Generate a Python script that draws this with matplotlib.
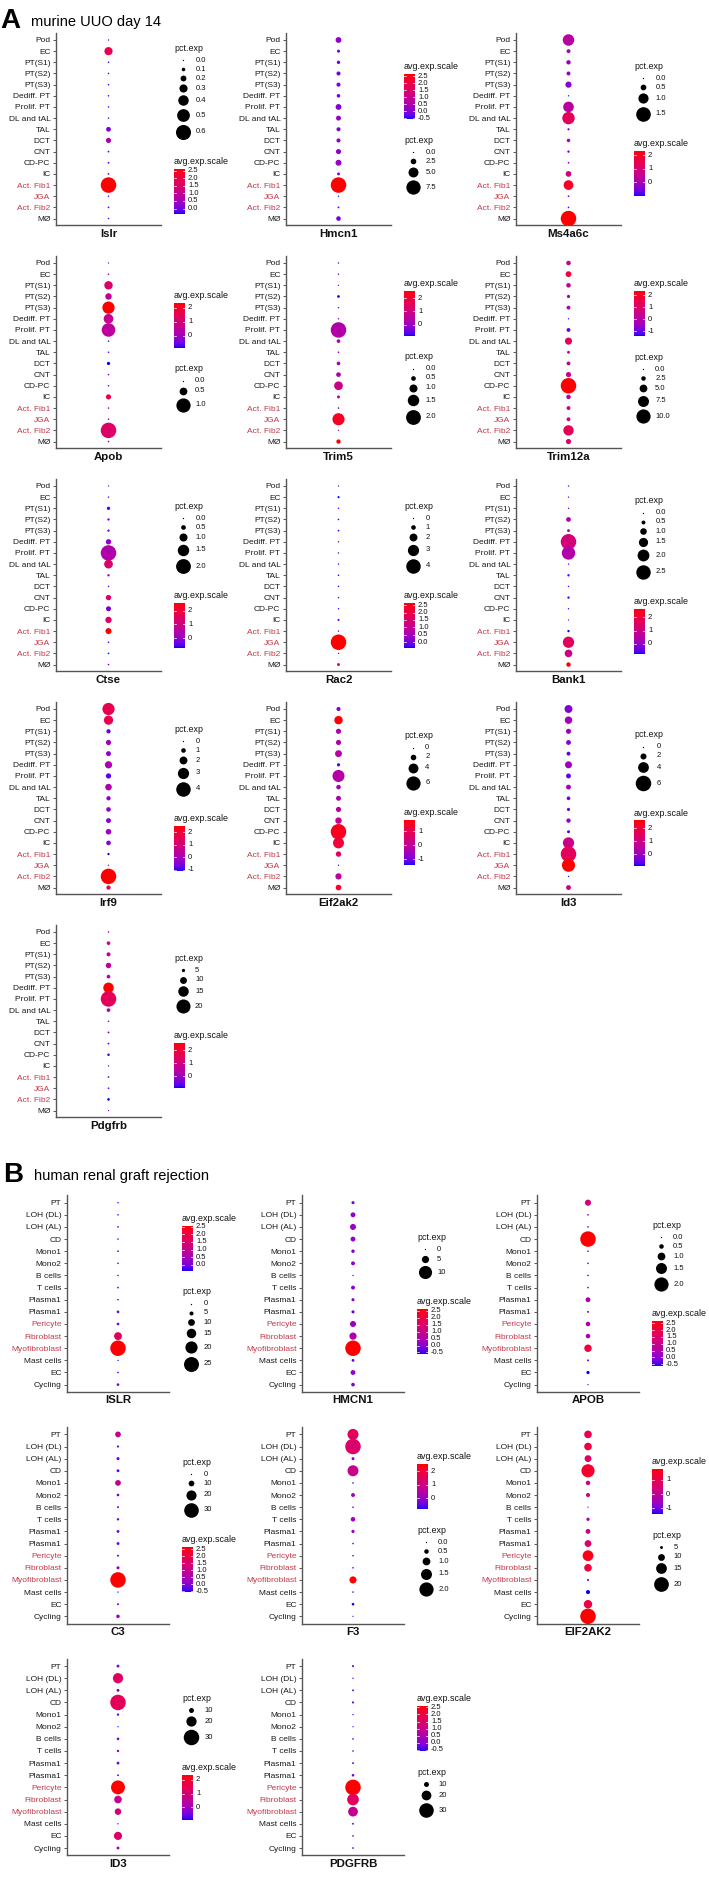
import numpy as np
import matplotlib
matplotlib.use("Agg")
import matplotlib.pyplot as plt
from matplotlib import font_manager
from matplotlib.colors import ListedColormap, Normalize

# ---------------- data ----------------
murine_cells = ["Pod", "EC", "PT(S1)", "PT(S2)", "PT(S3)", "Dediff. PT", "Prolif. PT",
                "DL and tAL", "TAL", "DCT", "CNT", "CD-PC", "IC", "Act. Fib1", "JGA",
                "Act. Fib2", "MØ"]
murine_red = ["Act. Fib1", "JGA", "Act. Fib2"]
human_cells = ["PT", "LOH (DL)", "LOH (AL)", "CD", "Mono1", "Mono2", "B cells", "T cells",
               "Plasma1", "Plasma1", "Pericyte", "Fibroblast", "Myofibroblast", "Mast cells",
               "EC", "Cycling"]
human_red = ["Pericyte", "Fibroblast", "Myofibroblast"]

# murine UUO day 14
islr_pct = [0.0, 0.30, 0.01, 0.01, 0.01, 0.01, 0.01, 0.01, 0.15, 0.17, 0.02, 0.02, 0.02, 0.62, 0.01, 0.02, 0.01]
islr_avg = [-0.39, 1.85, -0.3, -0.3, -0.3, -0.3, -0.2, -0.2, 0.1, 0.6, -0.2, -0.2, -0.1, 2.57, -0.2, -0.1, -0.2]
hmcn1_pct = [2.6, 1.0, 1.2, 1.6, 1.6, 1.3, 2.6, 2.1, 1.6, 1.6, 2.2, 2.7, 0.9, 8.2, 0.0, 0.3, 1.9]
hmcn1_avg = [0.1, -0.2, -0.2, -0.1, -0.1, -0.2, 0.0, 0.2, 0.0, 0.0, 0.1, 0.2, -0.1, 2.65, -0.55, -0.4, -0.1]
ms4a6c_pct = [1.15, 0.3, 0.35, 0.3, 0.55, 0.0, 1.05, 1.25, 0.1, 0.25, 0.12, 0.05, 0.5, 0.95, 0.05, 0.04, 1.6]
ms4a6c_avg = [0.3, 0.0, -0.2, -0.2, -0.3, -1.0, 0.3, 1.3, -0.4, 0.0, -0.5, -0.6, 0.8, 2.0, -0.6, -0.6, 2.28]
apob_pct = [0.0, 0.02, 0.55, 0.4, 0.85, 0.65, 0.95, 0.02, 0.02, 0.15, 0.02, 0.02, 0.3, 0.02, 0.02, 1.1, 0.02]
apob_avg = [-0.5, -0.5, 1.2, 0.6, 2.35, 0.7, 0.5, -0.6, -0.5, -0.85, -0.4, -0.5, 1.6, -0.4, -0.4, 1.2, -0.4]
trim5_pct = [0.02, 0.03, 0.0, 0.2, 0.02, 0.02, 2.1, 0.35, 0.05, 0.35, 0.5, 1.1, 0.25, 0.05, 1.6, 0.0, 0.45]
trim5_avg = [-0.5, -0.5, -0.5, -0.85, -0.4, -0.4, 0.4, 0.3, -0.4, 0.2, 0.3, 0.9, 0.3, -0.3, 2.3, -0.4, 2.6]
trim12a_pct = [2.5, 3.5, 2.5, 1.5, 2.0, 0.0, 2.0, 4.5, 1.2, 2.0, 3.0, 11.0, 2.5, 2.0, 2.0, 7.0, 3.0]
trim12a_avg = [0.3, 1.7, 0.1, -0.4, 0.0, -1.4, -1.0, 1.3, -0.2, 0.2, 0.5, 2.33, 0.1, 0.6, 0.4, 1.3, 0.9]
ctse_pct = [0.0, 0.03, 0.3, 0.15, 0.15, 0.6, 2.1, 1.1, 0.15, 0.03, 0.6, 0.55, 0.75, 0.7, 0.05, 0.05, 0.05]
ctse_avg = [-0.5, -0.5, -0.6, -0.4, -0.4, 0.0, 0.4, 1.3, -0.1, -0.4, 1.4, -0.3, 1.4, 2.53, -0.5, -0.75, -0.4]
rac2_pct = [0.0, 0.25, 0.05, 0.1, 0.15, 0.05, 0.05, 0.05, 0.1, 0.05, 0.05, 0.05, 0.25, 0.05, 4.3, 0.02, 0.5]
rac2_avg = [-0.3, -0.4, -0.2, -0.2, -0.2, -0.2, -0.2, -0.2, -0.2, -0.2, -0.2, -0.2, -0.1, -0.2, 2.64, -0.2, 1.8]
bank1_pct = [0.02, 0.02, 0.02, 0.65, 0.3, 2.7, 2.3, 0.02, 0.2, 0.03, 0.2, 0.03, 0.0, 0.2, 1.9, 1.2, 0.6]
bank1_avg = [-0.5, -0.5, -0.5, 0.4, 0.2, 1.2, 0.5, -0.5, -0.5, -0.5, -0.6, -0.5, -0.5, -0.75, 1.6, 1.0, 2.66]
irf9_pct = [3.3, 2.4, 0.9, 1.2, 1.1, 1.8, 1.2, 1.6, 0.9, 1.0, 1.1, 1.3, 1.0, 0.3, 0.0, 4.3, 0.9]
irf9_avg = [1.6, 1.6, -0.8, -0.1, -0.4, 0.1, -0.8, 0.1, -0.4, -0.3, -0.4, -0.1, -0.5, -1.1, -0.6, 2.47, 1.7]
eif2ak2_pct = [1.3, 3.3, 1.8, 1.8, 2.6, 0.9, 5.0, 1.5, 1.7, 1.8, 2.4, 6.6, 4.5, 1.9, 0.0, 2.3, 2.0]
eif2ak2_avg = [-0.9, 1.8, -0.3, -0.3, -0.1, -1.2, -0.2, -0.4, -0.3, -0.2, 0.1, 1.6, 1.3, 0.8, -1.4, -0.1, 1.5]
id3_pct = [2.8, 2.6, 1.6, 1.5, 1.1, 2.4, 1.5, 1.5, 1.0, 0.8, 1.3, 0.7, 4.2, 6.0, 5.0, 0.0, 1.5]
id3_avg = [-0.3, 0.1, 0.0, -0.2, -0.6, 0.0, -0.6, 0.1, -0.5, -0.5, -0.1, -0.7, 0.9, 1.5, 2.55, -0.9, 0.8]
pdgfrb_pct = [2.5, 5.5, 6.0, 8.0, 5.5, 15.0, 22.0, 5.5, 2.5, 3.0, 3.0, 4.0, 2.3, 2.8, 2.8, 4.0, 2.2]
pdgfrb_avg = [-0.5, 0.9, 0.4, 0.5, 0.2, 2.5, 1.5, 0.2, -0.5, -0.4, -0.4, -0.7, -0.6, -0.6, -0.6, -0.95, -0.6]

# human renal graft rejection
h_islr_pct = [0.3, 0.5, 0.7, 0.5, 0.8, 0.6, 0.5, 0.8, 0.5, 2.5, 2.5, 12.0, 26.0, 0.0, 0.7, 2.5]
h_islr_avg = [-0.3, -0.2, -0.2, -0.2, -0.2, -0.2, -0.2, -0.2, -0.2, -0.1, 0.0, 1.7, 2.55, -0.4, -0.2, 0.1]
h_hmcn1_pct = [1.5, 3.0, 4.0, 3.0, 1.8, 2.2, 0.0, 2.2, 1.5, 1.5, 4.0, 5.0, 12.0, 1.3, 3.0, 2.0]
h_hmcn1_avg = [-0.2, 0.1, 0.3, 0.1, -0.1, 0.0, -0.6, 0.0, -0.2, -0.3, 0.3, 0.5, 2.65, -0.3, 0.2, -0.1]
h_apob_pct = [0.75, 0.05, 0.05, 2.2, 0.05, 0.05, 0.05, 0.05, 0.55, 0.1, 0.5, 0.5, 0.95, 0.1, 0.3, 0.0]
h_apob_avg = [1.2, -0.4, -0.4, 2.65, -0.4, -0.4, -0.4, -0.4, 0.5, -0.3, 0.4, 0.4, 2.1, -0.3, -0.64, -0.4]
h_c3_pct = [10, 2, 4, 3.5, 10, 3, 1.5, 2.5, 3.5, 3.5, 1.5, 4, 32, 0, 1.5, 5]
h_c3_avg = [1.0, -0.3, -0.2, -0.3, 0.9, -0.2, -0.3, -0.2, -0.2, -0.3, -0.4, 0.2, 2.64, -0.57, -0.3, 0.3]
h_f3_pct = [1.5, 2.2, 0.25, 1.5, 0.05, 0.4, 0.05, 0.5, 0.3, 0.05, 0.05, 0.05, 0.9, 0.05, 0.2, 0.0]
h_f3_avg = [1.5, 1.3, -0.4, 0.8, -0.5, 0.0, -0.5, 0.2, 0.0, -0.5, -0.5, -0.5, 2.5, -0.5, -0.8, -0.5]
h_eif2ak2_pct = [11, 11, 10, 18, 7, 6.5, 3, 5.5, 7.5, 10, 15, 11, 4, 6.5, 12, 21]
h_eif2ak2_avg = [1.0, 1.1, 0.7, 1.4, 0.2, 0.2, -1.1, -0.3, 0.1, 0.6, 1.6, 1.2, -0.8, -1.4, 1.1, 1.75]
h_id3_pct = [6, 20, 6, 30, 5, 3, 5.5, 5, 6, 4, 27, 15, 13, 3.2, 16, 6]
h_id3_avg = [-0.5, 1.3, -0.5, 1.4, -0.6, -0.9, -0.5, -0.5, -0.4, -0.6, 2.35, 0.7, 0.9, -0.7, 1.2, 0.0]
h_pdgfrb_pct = [4, 2.5, 3.5, 4, 2.5, 2.3, 3, 3, 3.5, 5, 32, 24, 20, 3.5, 3, 3]
h_pdgfrb_avg = [-0.3, -0.5, -0.4, -0.3, -0.4, -0.5, -0.4, -0.4, -0.4, -0.2, 2.57, 1.6, 0.9, -0.3, -0.4, -0.6]

# (gene, pct values, avg values, size breaks, colour breaks, pct legend first?)
murine_genes = [
    ("Islr", islr_pct, islr_avg, [0, 0.1, 0.2, 0.3, 0.4, 0.5, 0.6], [0, 0.5, 1, 1.5, 2, 2.5], True),
    ("Hmcn1", hmcn1_pct, hmcn1_avg, [0, 2.5, 5, 7.5], [-0.5, 0, 0.5, 1, 1.5, 2, 2.5], False),
    ("Ms4a6c", ms4a6c_pct, ms4a6c_avg, [0, 0.5, 1, 1.5], [0, 1, 2], True),
    ("Apob", apob_pct, apob_avg, [0, 0.5, 1.0], [0, 1, 2], False),
    ("Trim5", trim5_pct, trim5_avg, [0, 0.5, 1, 1.5, 2], [0, 1, 2], False),
    ("Trim12a", trim12a_pct, trim12a_avg, [0, 2.5, 5, 7.5, 10], [-1, 0, 1, 2], False),
    ("Ctse", ctse_pct, ctse_avg, [0, 0.5, 1, 1.5, 2], [0, 1, 2], True),
    ("Rac2", rac2_pct, rac2_avg, [0, 1, 2, 3, 4], [0, 0.5, 1, 1.5, 2, 2.5], True),
    ("Bank1", bank1_pct, bank1_avg, [0, 0.5, 1, 1.5, 2, 2.5], [0, 1, 2], True),
    ("Irf9", irf9_pct, irf9_avg, [0, 1, 2, 3, 4], [-1, 0, 1, 2], True),
    ("Eif2ak2", eif2ak2_pct, eif2ak2_avg, [0, 2, 4, 6], [-1, 0, 1], True),
    ("Id3", id3_pct, id3_avg, [0, 2, 4, 6], [0, 1, 2], True),
    ("Pdgfrb", pdgfrb_pct, pdgfrb_avg, [5, 10, 15, 20], [0, 1, 2], True),
]
human_genes = [
    ("ISLR", h_islr_pct, h_islr_avg, [0, 5, 10, 15, 20, 25], [0, 0.5, 1, 1.5, 2, 2.5], False),
    ("HMCN1", h_hmcn1_pct, h_hmcn1_avg, [0, 5, 10], [-0.5, 0, 0.5, 1, 1.5, 2, 2.5], True),
    ("APOB", h_apob_pct, h_apob_avg, [0, 0.5, 1, 1.5, 2], [-0.5, 0, 0.5, 1, 1.5, 2, 2.5], True),
    ("C3", h_c3_pct, h_c3_avg, [0, 10, 20, 30], [-0.5, 0, 0.5, 1, 1.5, 2, 2.5], True),
    ("F3", h_f3_pct, h_f3_avg, [0, 0.5, 1, 1.5, 2], [0, 1, 2], False),
    ("EIF2AK2", h_eif2ak2_pct, h_eif2ak2_avg, [5, 10, 15, 20], [-1, 0, 1], False),
    ("ID3", h_id3_pct, h_id3_avg, [10, 20, 30], [0, 1, 2], True),
    ("PDGFRB", h_pdgfrb_pct, h_pdgfrb_avg, [10, 20, 30], [-0.5, 0, 0.5, 1, 1.5, 2, 2.5], False),
]

# ---------------- style ----------------
W, H = 709, 1879
available = {f.name for f in font_manager.fontManager.ttflist}
narrow = "Liberation Sans Narrow" in available
base_font = "Liberation Sans Narrow" if narrow else "Liberation Sans"
fs = 1.0 if narrow else 0.86
plt.rcParams["font.family"] = [base_font, "DejaVu Sans"]

RED_LABEL = "#C43A4A"
AXIS = "#555555"
D_MIN, D_MAX = 1.3, 15.5  # dot diameter in px


def _lab(rgb):
    c = np.array(rgb, float)
    c = np.where(c > 0.04045, ((c + 0.055) / 1.055) ** 2.4, c / 12.92)
    m = np.array([[0.4124, 0.3576, 0.1805], [0.2126, 0.7152, 0.0722], [0.0193, 0.1192, 0.9505]])
    xyz = m @ c / np.array([0.95047, 1.0, 1.08883])
    f = np.where(xyz > 0.008856, np.cbrt(xyz), 7.787 * xyz + 16 / 116)
    return np.array([116 * f[1] - 16, 500 * (f[0] - f[1]), 200 * (f[1] - f[2])])


def _rgb(lab):
    L, a, b = lab
    fy = (L + 16) / 116
    f = np.array([fy + a / 500, fy, fy - b / 200])
    xyz = np.where(f ** 3 > 0.008856, f ** 3, (f - 16 / 116) / 7.787) * np.array([0.95047, 1, 1.08883])
    minv = np.array([[3.2406, -1.5372, -0.4986], [-0.9689, 1.8758, 0.0415], [0.0557, -0.2040, 1.0570]])
    c = np.clip(minv @ xyz, 0, 1)
    c = np.where(c > 0.0031308, 1.055 * c ** (1 / 2.4) - 0.055, 12.92 * c)
    return np.clip(c, 0, 1)


# blue -> red gradient interpolated in Lab, like ggplot's scale_colour_gradient
lo, hi = _lab([0, 0, 1]), _lab([1, 0, 0])
cmap = ListedColormap([_rgb(lo + t * (hi - lo)) for t in np.linspace(0, 1, 256)])


def px2pt2(d):
    return (np.asarray(d) * 0.72) ** 2


def fmt(vals):
    if all(float(v).is_integer() for v in vals):
        return [str(int(v)) for v in vals]
    return [f"{v:.1f}" for v in vals]


fig = plt.figure(figsize=(W / 100, H / 100), dpi=100)
ov = fig.add_axes([0, 0, 1, 1])
ov.set_xlim(0, W)
ov.set_ylim(H, 0)
ov.axis("off")


def draw_legend(x, yc, pct, avg, size_breaks, col_breaks, pct_first):
    pmin, pmax = min(pct), max(pct)
    vmin, vmax = min(avg), max(avg)
    dia = [D_MIN + (D_MAX - D_MIN) * max(b - pmin, 0) / (pmax - pmin) for b in size_breaks]
    keys = [max(9.0, d + 3) for d in dia]
    kw = max(9.0, max(dia) + 3)
    bar_h = 45.0
    blocks = [("pct", sum(keys)), ("avg", bar_h)]
    if not pct_first:
        blocks = blocks[::-1]
    total = 11.5 + blocks[0][1] + 17 + 11.5 + blocks[1][1]
    top = yc - total / 2
    for kind, h in blocks:
        ov.text(x, top + 4, "pct.exp" if kind == "pct" else "avg.exp.scale",
                fontsize=7.4 * fs, va="center", ha="left", color="#111111")
        y0 = top + 11.5
        if kind == "pct":
            y = y0
            for b, d, k, lab in zip(size_breaks, dia, keys, fmt(size_breaks)):
                yy = y + k / 2
                ov.scatter([x + kw / 2], [yy], s=px2pt2(d), c="black", linewidths=0)
                ov.text(x + kw + 4, yy, lab, fontsize=6.4 * fs, va="center", ha="left", color="#111111")
                y += k
        else:
            grad = np.linspace(vmax, vmin, 200).reshape(-1, 1)
            ov.imshow(grad, cmap=cmap, vmin=vmin, vmax=vmax, aspect="auto",
                      extent=[x, x + 11, y0 + bar_h, y0], interpolation="bilinear")
            for b, lab in zip(col_breaks, fmt(col_breaks)):
                yy = y0 + bar_h * (vmax - b) / (vmax - vmin)
                ov.plot([x, x + 2.2], [yy, yy], color="white", lw=0.5)
                ov.plot([x + 8.8, x + 11], [yy, yy], color="white", lw=0.5)
                ov.text(x + 14, yy, lab, fontsize=6.4 * fs, va="center", ha="left", color="#111111")
        top = y0 + h + 17


def draw_panel(left, top, width, unit, cats, red, gene, pct, avg, size_breaks, col_breaks, pct_first):
    n = len(cats)
    height = unit * (n - 1 + 1.2)
    ax = fig.add_axes([left / W, 1 - (top + height) / H, width / W, height / H])
    ax.set_xlim(-0.6, 0.6)
    ax.set_ylim(n - 1 + 0.6, -0.6)
    pmin, pmax = min(pct), max(pct)
    dia = D_MIN + (D_MAX - D_MIN) * (np.array(pct) - pmin) / (pmax - pmin)
    norm = Normalize(vmin=min(avg), vmax=max(avg))
    ax.scatter(np.zeros(n), np.arange(n), s=px2pt2(dia), c=cmap(norm(np.array(avg))),
               linewidths=0, zorder=3)
    for sp in ["top", "right"]:
        ax.spines[sp].set_visible(False)
    for sp in ["left", "bottom"]:
        ax.spines[sp].set_color(AXIS)
        ax.spines[sp].set_linewidth(1.0)
    ax.set_yticks(np.arange(n))
    ax.set_yticklabels(cats, fontsize=7.0 * fs)
    for t, c in zip(ax.get_yticklabels(), cats):
        t.set_color(RED_LABEL if c in red else "#1a1a1a")
    ax.tick_params(axis="y", length=2.5, width=0.7, color=AXIS, pad=1.5)
    ax.set_xticks([0])
    ax.set_xticklabels([gene], fontsize=9.6 * fs, fontweight="bold", color="#111111")
    ax.tick_params(axis="x", length=0, pad=2.5)
    ax.set_facecolor("none")
    draw_legend(left + width + 13, top + height / 2, pct, avg, size_breaks, col_breaks, pct_first)


# panel A
ov.text(0, 21, "A", fontsize=20, fontweight="bold", va="center", ha="left")
ov.text(31, 22, "murine UUO day 14", fontsize=12.2 * fs, va="center", ha="left")
for i, (gene, pct, avg, sb, cb, pf) in enumerate(murine_genes):
    r, c = divmod(i, 3)
    draw_panel(56 + 230 * c, 33.3 + 223 * r, 105, 11.16, murine_cells, murine_red,
               gene, pct, avg, sb, cb, pf)

# panel B
ov.text(3, 1175, "B", fontsize=20, fontweight="bold", va="center", ha="left")
ov.text(34, 1176, "human renal graft rejection", fontsize=12.2 * fs, va="center", ha="left")
for i, (gene, pct, avg, sb, cb, pf) in enumerate(human_genes):
    r, c = divmod(i, 3)
    draw_panel(67 + 235 * c, 1195.4 + 231.7 * r, 102, 12.13, human_cells, human_red,
               gene, pct, avg, sb, cb, pf)

ov.set_xlim(0, W)
ov.set_ylim(H, 0)
fig.savefig("out.png", dpi=100)
